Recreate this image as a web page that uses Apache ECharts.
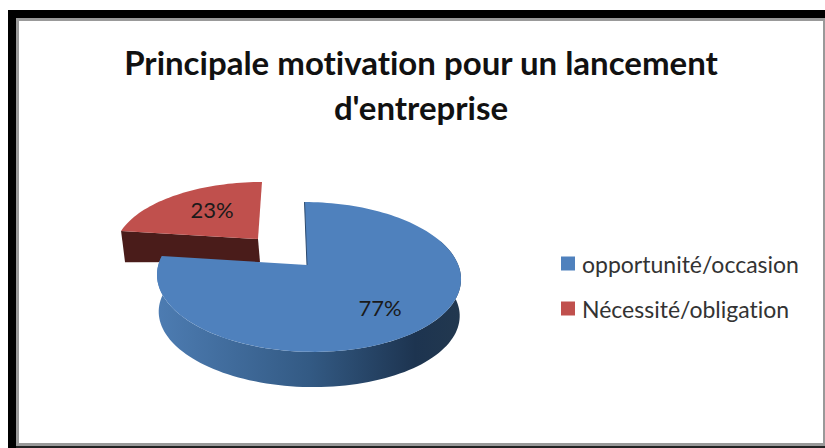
<!DOCTYPE html>
<html>
<head>
<meta charset="utf-8">
<style>
  html, body { margin: 0; padding: 0; background: #fff; }
  #chart { width: 825px; height: 448px; font-variant-ligatures: none; }
  #chart text { font-variant-ligatures: none; }
</style>
</head>
<body>
<div id="chart"></div>
<script src="https://cdn.jsdelivr.net/npm/echarts@6/dist/echarts.min.js"></script>
<script>
const categories = ['opportunité/occasion', 'Nécessité/obligation']
const shares = [77, 23]
const titleText = "Principale motivation pour un lancement\nd'entreprise"

const FONT = 'Lato, "Liberation Sans", sans-serif'

// projection of each exploded slice: circle -> perspective ellipse
const slices = [
  {
    apex: [307, 265],
    top: { x: 308.3, y: 265, rx: 150, ry: 73, k: 0.16, shear: 0.06, tilt: 0 },
    bottom: { x: 308.5, y: 302, rx: 148.5, ry: 71.5, k: 0.16, shear: 0.06, tilt: 0 },
    label: [380, 307]
  },
  {
    apex: [258, 239],
    top: { x: 258, y: 239, rx: 141, ry: 65, k: 0.14, shear: -0.07, tilt: 0 },
    bottom: { x: 260, y: 262, rx: 139, ry: 64, k: 0.14, shear: -0.07, tilt: -0.06 },
    label: [212, 209]
  }
]
const topColors = ['#4f81bd', '#c0504d']

const project = (m, deg) => {
  const a = deg * Math.PI / 180
  const u = Math.sin(a)
  const v = Math.cos(a)
  const w = 1 + m.k * v
  const dy = -m.ry * v / w
  const dx = m.rx * u / w + m.shear * dy
  return [m.x + dx, m.y + dy + m.tilt * dx]
}

const arc = (m, from, to) => {
  const pts = []
  const n = Math.max(2, Math.ceil(Math.abs(to - from) / 2))
  for (let i = 0; i <= n; i++) pts.push(project(m, from + (to - from) * i / n))
  return pts
}

const total = shares.reduce((a, b) => a + b, 0)

const renderSlice = index => (params, api) => {
  const g = slices[index]
  const before = shares.slice(0, index).reduce((a, b) => a + b, 0)
  const start = before / total * 360
  const end = start + api.value(0) / total * 360
  const children = []

  if (index === 0) {
    // outer wall
    const wall = arc(g.top, 70, end).concat(arc(g.bottom, end, 70))
    children.push({
      type: 'polygon',
      shape: { points: wall },
      style: {
        fill: new echarts.graphic.LinearGradient(157, 0, 461, 0, [
          { offset: 0, color: '#4d7cb2' },
          { offset: 0.5, color: '#335a84' },
          { offset: 0.85, color: '#1d3450' },
          { offset: 1, color: '#22384f' }
        ], true)
      }
    })
  } else {
    // cut face looking at the viewer
    children.push({
      type: 'polygon',
      shape: {
        points: [project(g.top, start), g.apex, [g.bottom.x, g.bottom.y], project(g.bottom, start)]
      },
      style: { fill: '#4a1c1a' }
    })
  }

  children.push({
    type: 'polygon',
    shape: { points: [g.apex].concat(arc(g.top, start, end)) },
    style: { fill: topColors[index] }
  })

  if (index === 0) {
    const tip = project(g.top, 0)
    children.push({
      type: 'line',
      shape: { x1: g.apex[0], y1: g.apex[1], x2: tip[0], y2: tip[1] },
      style: { stroke: '#2c4a6e', lineWidth: 1 }
    })
  }

  children.push({
    type: 'text',
    x: g.label[0],
    y: g.label[1],
    style: {
      text: Math.round(api.value(0) / total * 100) + '%',
      font: '22px ' + FONT,
      fill: '#1a1a1a',
      align: 'center',
      verticalAlign: 'middle'
    }
  })

  return { type: 'group', children }
}

const myChart = echarts.init(document.getElementById('chart'), null, { renderer: 'svg' })

const option = {
  animation: false,
  backgroundColor: '#fff',
  title: {
    text: titleText,
    left: 416,
    top: 34,
    textAlign: 'center',
    textStyle: {
      fontFamily: FONT,
      fontSize: 33,
      fontWeight: 'bold',
      color: '#111',
      lineHeight: 45
    }
  },
  legend: {
    orient: 'vertical',
    left: 561,
    top: 252,
    padding: 0,
    itemWidth: 14,
    itemHeight: 14,
    itemGap: 22,
    icon: 'rect',
    data: categories,
    textStyle: { fontFamily: FONT, fontSize: 23, color: '#333', padding: [0, 0, 0, 2] }
  },
  graphic: [
    {
      type: 'polygon',
      silent: true,
      shape: {
        points: [[8, 448], [8, 10], [825, 10], [825, 18], [16, 18], [16, 448]]
      },
      style: { fill: '#000' }
    },
    { type: 'rect', silent: true, shape: { x: 16, y: 18, width: 809, height: 3 }, style: { fill: '#999' } },
    { type: 'rect', silent: true, shape: { x: 16, y: 18, width: 3, height: 428 }, style: { fill: '#999' } },
    { type: 'rect', silent: true, shape: { x: 823, y: 18, width: 2, height: 428 }, style: { fill: '#999' } },
    { type: 'rect', silent: true, shape: { x: 16, y: 443, width: 809, height: 3 }, style: { fill: '#999' } },
    { type: 'rect', silent: true, shape: { x: 16, y: 446, width: 809, height: 2 }, style: { fill: '#222' } }
  ],
  series: [1, 0].map(i => ({
    type: 'custom',
    name: categories[i],
    coordinateSystem: 'none',
    itemStyle: { color: topColors[i] },
    data: [shares[i]],
    renderItem: renderSlice(i)
  }))
}

myChart.setOption(option)
</script>
</body>
</html>
